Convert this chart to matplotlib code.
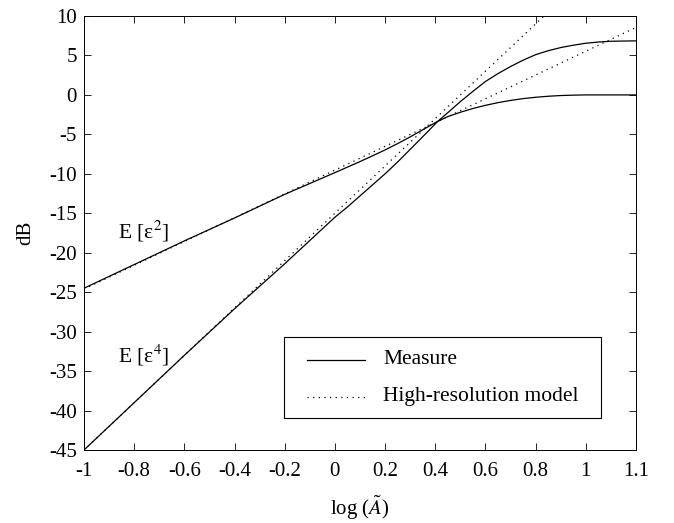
import numpy as np
import matplotlib as mpl
mpl.use('Agg')
import matplotlib.pyplot as plt
from matplotlib.patches import Rectangle

mpl.rcParams['font.family'] = ['Liberation Serif', 'DejaVu Serif']
mpl.rcParams['mathtext.fontset'] = 'stix'
mpl.rcParams['axes.unicode_minus'] = False

# measured noise moments (dB) vs log amplitude
x_meas = [-1.0, -0.8, -0.6, -0.4, -0.2, 0.0, 0.05, 0.1, 0.15, 0.2, 0.25, 0.3, 0.35,
          0.41, 0.45, 0.5, 0.55, 0.6, 0.65, 0.7, 0.75, 0.8, 0.85, 0.9, 0.95,
          1.0, 1.05, 1.1, 1.2]
e2_meas = [-24.5, -21.5, -18.5, -15.6, -12.6, -9.85, -9.15, -8.45, -7.72, -6.97, -6.17, -5.32, -4.42,
           -3.35, -2.75, -2.2, -1.72, -1.32, -0.98, -0.7, -0.47, -0.3, -0.17, -0.08, -0.03,
           0.0, 0.0, 0.0, 0.0]
e4_meas = [-45.0, -39.0, -33.0, -27.1, -21.4, -15.5, -14.2, -12.8, -11.4, -10.0, -8.5, -6.9, -5.3,
           -3.35, -2.25, -0.85, 0.45, 1.7, 2.7, 3.6, 4.4, 5.1, 5.6, 6.0, 6.3,
           6.55, 6.7, 6.8, 6.85]

# high-resolution model (straight lines)
x_e2_model = [-1.0, 1.2]
e2_model = [-24.6, 8.55]
x_e4_model = [-1.0, 1.0]
e4_model = [-45.0, 15.0]

xtick_pos = [-1.0, -0.8, -0.6, -0.4, -0.2, 0.0, 0.2, 0.4, 0.6, 0.8, 1.0, 1.2]
xtick_lab = ['-1', '-0.8', '-0.6', '-0.4', '-0.2', '0', '0.2', '0.4', '0.6', '0.8', '1', '1.1']
ytick_pos = [-45, -40, -35, -30, -25, -20, -15, -10, -5, 0, 5, 10]

legend_labels = ['Measure', 'High-resolution model']

FS = 15
W, H = 674, 523
fig = plt.figure(figsize=(W / 100, H / 100), dpi=100)
ax = fig.add_axes([84 / W, (H - 450) / H, 552 / W, 434 / H])

dots = (0, (1, 3.5))
ax.plot(x_meas, e2_meas, color='k', lw=0.9)
ax.plot(x_e2_model, e2_model, color='k', lw=0.9, linestyle=dots)
ax.plot(x_meas, e4_meas, color='k', lw=0.9)
ax.plot(x_e4_model, e4_model, color='k', lw=0.9, linestyle=dots)

ax.set_xlim(-1, 1.2)
ax.set_ylim(-45, 10)
ax.set_xticks(xtick_pos)
ax.set_xticklabels(xtick_lab)
ax.set_yticks(ytick_pos)
ax.tick_params(direction='in', length=5, width=0.6, top=True, right=True,
               labelsize=FS, colors='k')
ax.tick_params(axis='x', pad=9)
ax.tick_params(axis='y', pad=5)
for s in ax.spines.values():
    s.set_linewidth(0.7)

ax.set_xlabel(r'log ($\tilde{A}$)', fontsize=FS, labelpad=9)
ax.set_ylabel('dB', fontsize=FS, labelpad=10)

ax.text(-0.865, -18.2, 'E [ε$^2$]', fontsize=FS + 0.5)
ax.text(-0.865, -33.9, 'E [ε$^4$]', fontsize=FS + 0.5)

# legend box drawn in axes fraction
ax.add_patch(Rectangle((0.363, 0.073), 0.573, 0.187, transform=ax.transAxes,
                       facecolor='white', edgecolor='k', lw=0.8, zorder=5))
for yy, ls, lab in zip([0.2074, 0.1228], ['-', dots], legend_labels):
    ax.plot([0.4034, 0.509], [yy, yy], transform=ax.transAxes, color='k',
            lw=0.9, linestyle=ls, zorder=6)
    ax.text(0.5417, yy, lab, transform=ax.transAxes, fontsize=FS + 0.5,
            va='center', ha='left', zorder=6)

fig.savefig('out.png', dpi=100)
